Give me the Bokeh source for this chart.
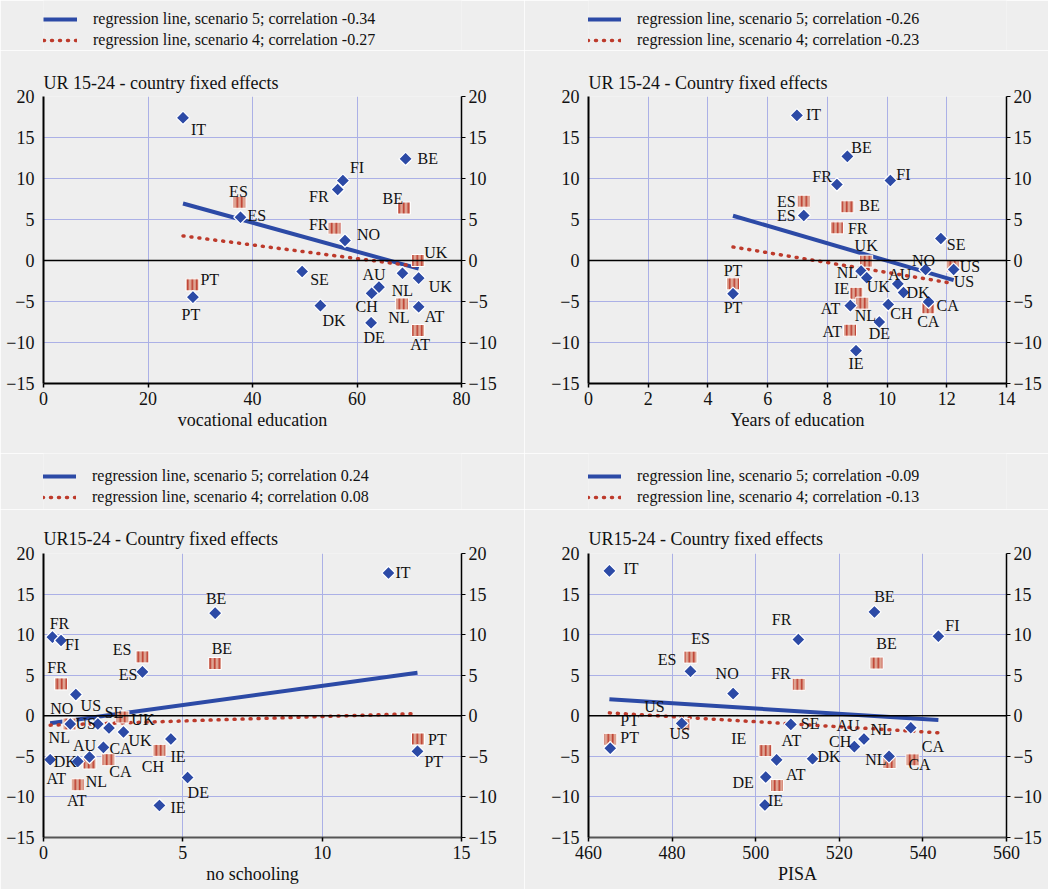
import numpy as np
from bokeh.plotting import figure
from bokeh.models import (Range1d, LinearAxis, Span, Legend, LegendItem,
                          ColumnDataSource, FixedTicker)
from bokeh.layouts import column, row
from bokeh.embed import file_html
from bokeh.resources import INLINE
from bokeh.core.properties import value

# ---------------- data ----------------
# Panel 1: vocational education
p1_s5_countries = ["IT", "BE", "FI", "FR", "ES", "NO", "SE", "AU", "CH", "NL", "UK", "DK", "DE", "AT", "PT"]
p1_s5_x = [26.7, 69.3, 57.3, 56.3, 37.7, 57.7, 49.5, 64.2, 62.8, 68.7, 71.8, 53.0, 62.7, 71.8, 28.6]
p1_s5_y = [17.4, 12.4, 9.75, 8.66, 5.28, 2.44, -1.34, -3.25, -4.0, -1.55, -2.15, -5.5, -7.6, -5.65, -4.47]
p1_s4_countries = ["ES", "BE", "FR", "UK", "PT", "NL", "AT"]
p1_s4_x = [37.5, 69.0, 55.7, 71.7, 28.5, 68.6, 71.7]
p1_s4_y = [7.1, 6.4, 3.94, 0.0, -2.97, -5.3, -8.54]
p1_reg5 = (11.66, -0.1763)   # intercept, slope
p1_reg4 = (5.22, -0.0831)
p1_corr = (-0.34, -0.27)

# Panel 2: years of education
p2_s5_countries = ["IT", "BE", "FR", "FI", "ES", "SE", "NO", "US", "NL", "UK", "AU", "DK", "CA", "CH", "AT", "DE", "IE", "PT"]
p2_s5_x = [6.98, 8.67, 8.32, 10.11, 7.21, 11.8, 11.29, 12.23, 9.13, 9.32, 10.36, 10.55, 11.39, 10.04, 8.77, 9.74, 8.96, 4.84]
p2_s5_y = [17.7, 12.7, 9.27, 9.76, 5.49, 2.68, -1.1, -1.1, -1.3, -2.1, -2.85, -3.9, -5.04, -5.37, -5.5, -7.5, -11.0, -4.06]
p2_s4_countries = ["ES", "BE", "FR", "UK", "US", "PT", "IE", "NL", "CA", "AT"]
p2_s4_x = [7.21, 8.67, 8.32, 9.30, 12.2, 4.84, 8.97, 9.17, 11.38, 8.76]
p2_s4_y = [7.23, 6.55, 3.98, -0.08, -0.7, -2.85, -4.0, -5.2, -5.77, -8.5]
p2_reg5 = (10.61, -1.064)
p2_reg4 = (4.57, -0.603)
p2_corr = (-0.26, -0.23)

# Panel 3: no schooling
p3_s5_countries = ["IT", "BE", "FR", "FI", "ES", "NO", "NL", "US", "SE", "UK", "CH", "CA", "AU", "DK", "AT", "DE", "IE", "PT"]
p3_s5_x = [12.38, 6.16, 0.32, 0.63, 3.55, 1.16, 0.96, 1.95, 2.35, 2.87, 4.57, 2.15, 1.65, 1.23, 0.24, 5.17, 4.16, 13.42]
p3_s5_y = [17.6, 12.65, 9.69, 9.28, 5.41, 2.62, -1.01, -1.01, -1.5, -2.0, -2.86, -3.89, -5.08, -5.62, -5.41, -7.6, -11.05, -4.38]
p3_s4_countries = ["ES", "BE", "FR", "US", "UK", "IE", "NL", "CA", "AT", "PT"]
p3_s4_x = [3.55, 6.15, 0.63, 0.93, 2.83, 4.16, 1.65, 2.33, 1.23, 13.44]
p3_s4_y = [7.26, 6.44, 3.93, -1.01, -0.15, -4.26, -5.82, -5.41, -8.5, -2.86]
p3_reg5 = (-1.03, 0.471)
p3_reg4 = (-1.18, 0.108)
p3_corr = (0.24, 0.08)

# Panel 4: PISA
p4_s5_countries = ["IT", "BE", "FI", "FR", "ES", "NO", "US", "SE", "CA", "AU", "CH", "NL", "PT", "DK", "AT", "DE", "IE"]
p4_s5_x = [465.0, 528.4, 543.7, 510.2, 484.4, 494.6, 482.3, 508.4, 537.1, 525.9, 523.6, 531.9, 465.2, 513.6, 505.0, 502.4, 502.2]
p4_s5_y = [17.86, 12.8, 9.8, 9.4, 5.48, 2.74, -0.94, -1.06, -1.47, -2.86, -3.8, -5.0, -4.0, -5.3, -5.43, -7.55, -11.0]
p4_s4_countries = ["ES", "FR", "BE", "US", "PT", "IE", "AT", "NL", "CA"]
p4_s4_x = [484.4, 510.3, 528.9, 482.7, 465.2, 502.3, 505.1, 532.0, 537.5]
p4_s4_y = [7.23, 3.88, 6.5, -1.06, -2.9, -4.29, -8.6, -5.76, -5.43]
p4_reg5 = (17.30, -0.0328)
p4_reg4 = (14.82, -0.0311)
p4_corr = (-0.09, -0.13)

y_ticks = [-15, -10, -5, 0, 5, 10, 15, 20]

# ---------------- label placement (style) ----------------
# (align, dx px, dy px) per country
p1_s5_lab = {"IT": ("l", 8, 12), "BE": ("l", 12, 0), "FI": ("l", 7, -13), "FR": ("r", -9, 7),
             "ES": ("l", 7, -2), "NO": ("l", 12, -6), "SE": ("l", 8, 8), "AU": ("c", -5, -13),
             "CH": ("c", -5, 13), "NL": ("c", 0, 17), "UK": ("l", 10, 8), "DK": ("l", 2, 15),
             "DE": ("c", 3, 15), "AT": ("l", 6, 10), "PT": ("c", -2, 17)}
p1_s4_lab = {"ES": ("c", -1, -11), "BE": ("r", -1, -10), "FR": ("r", -6, -4), "UK": ("l", 6, -8),
             "PT": ("l", 8, -5), "NL": ("c", -3, 14), "AT": ("c", 2, 14)}
p2_s5_lab = {"IT": ("l", 9, -1), "BE": ("l", 4, -9), "FR": ("r", -5, -8), "FI": ("l", 6, -6),
             "ES": ("r", -8, 0), "SE": ("l", 6, 6), "NO": ("c", -2, -9), "US": ("l", 0, 12),
             "NL": ("r", -3, 1), "UK": ("l", 0, 9), "AU": ("c", 2, -9), "DK": ("l", 3, 0),
             "CA": ("l", 8, 4), "CH": ("l", 2, 9), "AT": ("r", -10, 3), "DE": ("c", 0, 11),
             "IE": ("c", 0, 13), "PT": ("c", 0, 14)}
p2_s4_lab = {"ES": ("r", -8, 0), "BE": ("l", 12, -1), "FR": ("l", 11, 1), "UK": ("c", 0, -16),
             "US": ("l", 7, 0), "PT": ("c", 0, -13), "IE": ("r", -7, -5), "NL": ("c", 3, 12),
             "CA": ("c", 0, 14), "AT": ("r", -8, 1)}
p3_s5_lab = {"IT": ("l", 7, 0), "BE": ("c", 1, -15), "FR": ("c", 7, -14), "FI": ("l", 4, 4),
             "ES": ("r", -5, 3), "NO": ("c", -14, 14), "NL": ("c", -11, 14), "US": ("c", -7, -18),
             "SE": ("c", 5, -15), "UK": ("l", 5, 8), "CH": ("c", -18, 28), "CA": ("l", 6, 1),
             "AU": ("c", -5, -12), "DK": ("r", -1, 0), "AT": ("c", 6, 19), "DE": ("l", 0, 15),
             "IE": ("l", 11, 2), "PT": ("l", 7, 10)}
p3_s4_lab = {"ES": ("r", -11, -7), "BE": ("c", 7, -15), "FR": ("c", -4, -16), "US": ("l", 6, 0),
             "UK": ("l", 9, 2), "IE": ("l", 11, 6), "NL": ("c", 7, 18), "CA": ("c", 12, 12),
             "AT": ("c", -1, 16), "PT": ("l", 10, 1)}
p4_s5_lab = {"IT": ("l", 14, -2), "BE": ("c", 10, -15), "FI": ("l", 7, -11), "FR": ("r", -7, -20),
             "ES": ("r", -14, -12), "NO": ("c", -6, -20), "US": ("c", -2, 10), "SE": ("l", 10, -1),
             "CA": ("l", 11, 19), "AU": ("c", -16, -13), "CH": ("r", -3, -5), "NL": ("c", -8, -27),
             "PT": ("l", 10, -11), "DK": ("l", 5, -2), "AT": ("l", 5, -19), "DE": ("r", -12, 5),
             "IE": ("l", 3, -5)}
p4_s4_lab = {"ES": ("c", 10, -19), "FR": ("r", -8, -11), "BE": ("c", 10, -20), "US": ("c", -29, -18),
             "PT": ("l", 10, -19), "IE": ("r", -19, -12), "AT": ("l", 9, -11), "NL": ("r", -3, -3),
             "CA": ("l", -4, 5)}

FONT = "Liberation Serif"
BG = "#EEEEEE"
BLUE = "#2C4AA6"
RED = "#BD3A2B"
SQ_FILL = "#DEA594"
GRID = "#ABB0E6"
ALIGN = {"l": "left", "c": "center", "r": "right"}
BLUE_STYLE = dict(line_color=BLUE, line_width=4)
RED_STYLE = dict(line_color=RED, line_width=3.5, line_dash="1 7", line_cap="round")


def reg_line(s5x, reg):
    lx = [min(s5x), max(s5x)]
    return lx, [reg[0] + reg[1] * v for v in lx]


def add_labels(p, countries, xs, ys, lab):
    for key in ("l", "c", "r"):
        d = dict(x=[], y=[], t=[], xo=[], yo=[])
        for c, x, y in zip(countries, xs, ys):
            a, dx, dy = lab[c]
            if a == key:
                d["x"].append(x); d["y"].append(y); d["t"].append(c)
                d["xo"].append(dx); d["yo"].append(dy)
        if d["x"]:
            p.text(x="x", y="y", text="t", x_offset="xo", y_offset="yo",
                   source=ColumnDataSource(d), text_align=ALIGN[key],
                   text_baseline="middle", text_font=value(FONT),
                   text_font_size="16px", text_color="#111111")


def make_legend_fig(s5x, reg5, reg4, corr, width, height, left, leg_loc):
    # a strip holding only the legend; its view range lies far from the data,
    # so the keyed regression lines themselves are not visible here
    f = figure(width=width, height=height, x_range=Range1d(-10001, -10000),
               y_range=Range1d(-10001, -10000),
               output_backend="svg", toolbar_location=None, tools="",
               x_axis_type=None, y_axis_type=None,
               min_border_left=left, min_border_right=0, min_border_top=0, min_border_bottom=0,
               background_fill_color=BG, border_fill_color=BG, outline_line_color=None)
    f.xgrid.visible = False
    f.ygrid.visible = False
    k5 = f.line(*reg_line(s5x, reg5), **BLUE_STYLE)
    k4 = f.line(*reg_line(s5x, reg4), **RED_STYLE)
    legend = Legend(items=[
        LegendItem(label=f"regression line, scenario 5; correlation {corr[0]:.2f}", renderers=[k5]),
        LegendItem(label=f"regression line, scenario 4; correlation {corr[1]:.2f}", renderers=[k4]),
    ], location=leg_loc, orientation="vertical", padding=0, margin=0, spacing=3,
        glyph_width=34, glyph_height=18, label_height=18, label_standoff=16,
        background_fill_alpha=0, border_line_alpha=0,
        label_text_font=FONT, label_text_font_size="16px", label_text_color="#111111")
    f.add_layout(legend, "center")
    return f


def make_panel(title, xlabel, xr, xticks, s5, s4, reg5, reg4, lab5, lab4,
               top, fh, bottom, left, right, bottom_axis_color, title_standoff):
    p = figure(frame_width=418, frame_height=fh, x_range=Range1d(*xr), y_range=Range1d(-15, 20),
               output_backend="svg", toolbar_location=None, tools="",
               min_border_left=left, min_border_right=right,
               min_border_top=top, min_border_bottom=bottom,
               background_fill_color=BG, border_fill_color=BG, outline_line_color=None)
    p.title.text = title
    p.title.text_font = FONT
    p.title.text_font_size = "18px"
    p.title.text_font_style = "normal"
    p.title.text_color = "#111111"
    p.title.align = "left"
    p.title.standoff = title_standoff

    xt = FixedTicker(ticks=xticks)
    yt = FixedTicker(ticks=y_ticks)
    xa = p.xaxis[0]
    xa.ticker = xt
    xa.axis_label = xlabel
    xa.axis_label_text_font = FONT
    xa.axis_label_text_font_size = "18px"
    xa.axis_label_text_font_style = "normal"
    xa.axis_label_text_color = "#111111"
    xa.axis_label_standoff = 2
    xa.major_label_text_font = FONT
    xa.major_label_text_font_size = "18px"
    xa.major_label_text_color = "#111111"
    xa.major_label_standoff = 4
    xa.axis_line_color = bottom_axis_color
    xa.axis_line_width = 2
    xa.major_tick_out = 4
    xa.major_tick_in = 0
    xa.major_tick_line_width = 1.5
    xa.major_tick_line_color = "black"
    xa.minor_tick_line_color = None

    ya = p.yaxis[0]
    ya.ticker = yt
    ya.major_label_text_font = FONT
    ya.major_label_text_font_size = "18px"
    ya.major_label_text_color = "#111111"
    ya.major_label_standoff = 9
    ya.axis_line_color = "black"
    ya.axis_line_width = 2
    ya.major_tick_out = 0
    ya.major_tick_in = 0
    ya.minor_tick_line_color = None

    ra = LinearAxis(ticker=yt, major_label_text_font=FONT, major_label_text_font_size="18px",
                    major_label_text_color="#111111", major_label_standoff=3,
                    axis_line_color="black", axis_line_width=1.5,
                    major_tick_out=4, major_tick_in=0, major_tick_line_color="black",
                    minor_tick_line_color=None)
    p.add_layout(ra, "right")

    p.xgrid.ticker = xt
    p.ygrid.ticker = yt
    p.xgrid.grid_line_color = GRID
    p.ygrid.grid_line_color = GRID
    p.xgrid.grid_line_width = 1
    p.ygrid.grid_line_width = 1

    p.add_layout(Span(location=0, dimension="width", line_color="black", line_width=1.5))

    p.line(*reg_line(s5[1], reg5), **BLUE_STYLE)
    p.line(*reg_line(s5[1], reg4), **RED_STYLE)

    p.rect(x=s4[1], y=s4[2], width=13, height=12, width_units="screen", height_units="screen",
           fill_color=SQ_FILL, line_color="white", line_width=1,
           hatch_pattern="|", hatch_color=RED, hatch_scale=4.5, hatch_weight=1.6)
    p.scatter(x=s5[1], y=s5[2], marker="square", angle=np.pi / 4, size=9.5,
              fill_color=BLUE, line_color="white", line_width=1.2)

    add_labels(p, s4[0], s4[1], s4[2], lab4)
    add_labels(p, s5[0], s5[1], s5[2], lab5)
    return p


TOP = dict(top=46, fh=287, bottom=70, title_standoff=7)
BOT = dict(top=44, fh=284, bottom=52, title_standoff=10)
LEFT = dict(left=43, right=63)
RIGHT = dict(left=64, right=42)

p1 = make_panel("UR 15-24 - country fixed effects", "vocational education", (0, 80), [0, 20, 40, 60, 80],
                (p1_s5_countries, p1_s5_x, p1_s5_y), (p1_s4_countries, p1_s4_x, p1_s4_y),
                p1_reg5, p1_reg4, p1_s5_lab, p1_s4_lab,
                bottom_axis_color="black", **TOP, **LEFT)
p2 = make_panel("UR 15-24 - Country fixed effects", "Years of education", (0, 14), list(range(0, 15, 2)),
                (p2_s5_countries, p2_s5_x, p2_s5_y), (p2_s4_countries, p2_s4_x, p2_s4_y),
                p2_reg5, p2_reg4, p2_s5_lab, p2_s4_lab,
                bottom_axis_color="black", **TOP, **RIGHT)
p3 = make_panel("UR15-24 - Country fixed effects", "no schooling", (0, 15), [0, 5, 10, 15],
                (p3_s5_countries, p3_s5_x, p3_s5_y), (p3_s4_countries, p3_s4_x, p3_s4_y),
                p3_reg5, p3_reg4, p3_s5_lab, p3_s4_lab,
                bottom_axis_color="#555555", **BOT, **LEFT)
p4 = make_panel("UR15-24 - Country fixed effects", "PISA", (460, 560), [460, 480, 500, 520, 540, 560],
                (p4_s5_countries, p4_s5_x, p4_s5_y), (p4_s4_countries, p4_s4_x, p4_s4_y),
                p4_reg5, p4_reg4, p4_s5_lab, p4_s4_lab,
                bottom_axis_color="#555555", **BOT, **RIGHT)

l1 = make_legend_fig(p1_s5_x, p1_reg5, p1_reg4, p1_corr, 524, 50, 43, (0, 1))
l2 = make_legend_fig(p2_s5_x, p2_reg5, p2_reg4, p2_corr, 524, 50, 64, (-1, 1))
l3 = make_legend_fig(p3_s5_x, p3_reg5, p3_reg4, p3_corr, 524, 56, 43, (-1, 3))
l4 = make_legend_fig(p4_s5_x, p4_reg5, p4_reg4, p4_corr, 524, 56, 64, (-1, 3))

layout = column(row(column(l1, p1), column(l2, p2)), row(column(l3, p3), column(l4, p4)))
open("out.html", "w").write(file_html(layout, INLINE))
